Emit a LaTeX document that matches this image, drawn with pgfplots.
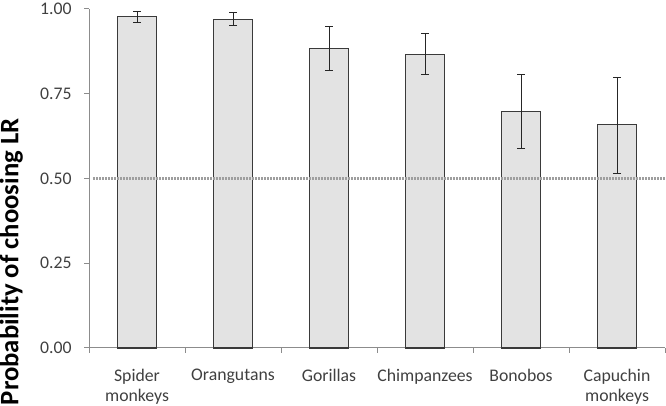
\documentclass[border=0pt]{standalone}
\usepackage{pgfplots}
\pgfplotsset{compat=1.18}
\usepackage{fontspec}
\setmainfont{Carlito}
\definecolor{barfill}{HTML}{E3E3E3}
\definecolor{baredge}{HTML}{3A3A3A}
\definecolor{axisgray}{HTML}{8C8C8C}
\definecolor{tickgray}{HTML}{404040}
\definecolor{dotgray}{HTML}{9E9E9E}
\pgfplotstableread{
x y ep em
0 0.978 0.016 0.018
1 0.969 0.020 0.018
2 0.883 0.064 0.064
3 0.867 0.060 0.059
4 0.699 0.109 0.111
5 0.658 0.139 0.142
}\datatable
\begin{document}
\begin{tikzpicture}
\path[use as bounding box] (0pt,0pt) rectangle (499.5pt,304.5pt);
\begin{axis}[
  at={(66.75pt,43.5pt)}, anchor=south west,
  scale only axis, width=432pt, height=254.25pt,
  xmin=-0.5, xmax=5.5, ymin=0, ymax=1,
  axis x line*=bottom, axis y line*=left,
  axis line style={draw=axisgray, line width=0.75pt, -},
  tick style={draw=axisgray, line width=0.75pt},
  tick align=outside, major tick length=3.5pt,
  /pgf/number format/assume math mode=true,
  ytick={0,0.25,0.5,0.75,1},
  yticklabel style={/pgf/number format/fixed, /pgf/number format/fixed zerofill, /pgf/number format/precision=2, font=\fontsize{13.3}{15}\selectfont, text=tickgray, xshift=-6pt},
  xtick={-0.5,0.5,1.5,2.5,3.5,4.5,5.5},
  xticklabels={},
  extra x ticks={0,1,2,3,4,5},
  extra x tick labels={{Spider\\monkeys},Orangutans,Gorillas,Chimpanzees,Bonobos,{Capuchin\\monkeys}},
  extra x tick style={major tick length=0pt, xticklabel style={align=center, font=\fontsize{13.3}{15}\selectfont, text=tickgray, yshift=-12.5pt}},
  ylabel={Probability of choosing LR},
  ylabel style={at={(axis description cs:-0.135,0.254)}, anchor=center, font=\bfseries\fontsize{20}{22}\selectfont},
  clip=false,
]
\addplot[ybar, bar width=0.4, fill=barfill, draw=baredge, line width=0.8pt,
  error bars/.cd, y dir=both, y explicit,
  error bar style={draw=black!85, line width=0.75pt},
  error mark options={draw=black!85, line width=0.75pt, mark size=3pt, rotate=90}]
  table[x=x, y=y, y error plus=ep, y error minus=em] {\datatable};
\addplot[dotgray, line width=1.9pt, dash pattern=on 1.5pt off 0.75pt] coordinates {(-0.46,0.5) (5.5,0.5)};
\end{axis}
\end{tikzpicture}
\end{document}
